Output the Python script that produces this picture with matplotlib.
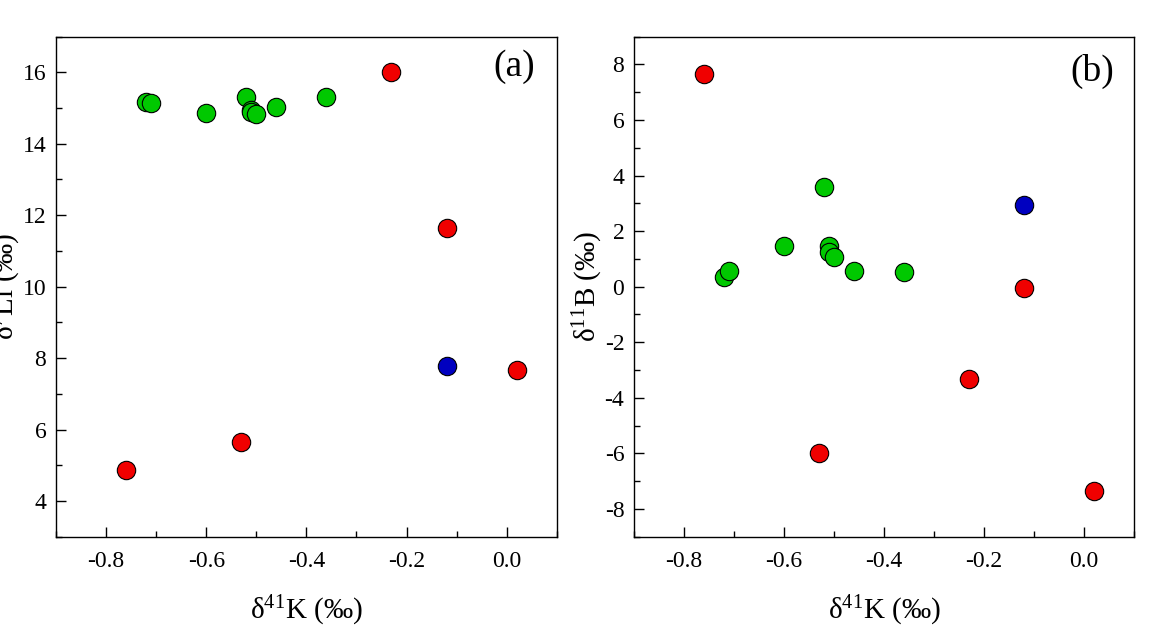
import numpy as np
import matplotlib
matplotlib.use('Agg')
from matplotlib import pyplot as plt
from matplotlib.ticker import MultipleLocator

plt.rcParams['font.family'] = ['Liberation Serif', 'DejaVu Serif']
plt.rcParams['mathtext.fontset'] = 'custom'
plt.rcParams['mathtext.rm'] = 'Liberation Serif'
plt.rcParams['mathtext.it'] = 'Liberation Serif:italic'

# green samples
green_k = [-0.72, -0.71, -0.60, -0.52, -0.51, -0.51, -0.50, -0.46, -0.36]
green_li = [15.16, 15.13, 14.85, 15.32, 14.95, 14.88, 14.82, 15.02, 15.30]
green_b = [0.35, 0.58, 1.48, 3.58, 1.45, 1.25, 1.05, 0.58, 0.53]

# red samples
red_k = [-0.76, -0.53, -0.23, -0.12, 0.02]
red_li = [4.87, 5.64, 16.0, 11.63, 7.66]
red_b = [7.66, -5.97, -3.32, -0.04, -7.37]

# blue sample
blue_k = [-0.12]
blue_li = [7.77]
blue_b = [2.93]

fig = plt.figure(figsize=(11.55, 6.42), dpi=100)
ax1 = fig.add_axes([0.0485, 0.164, 0.4335, 0.779])
ax2 = fig.add_axes([0.549, 0.164, 0.433, 0.779])

mk = dict(s=175, edgecolors='black', linewidths=0.8, zorder=3)


def style(ax):
    ax.set_xlim(-0.9, 0.1)
    ax.xaxis.set_major_locator(MultipleLocator(0.2))
    ax.xaxis.set_minor_locator(MultipleLocator(0.1))
    ax.yaxis.set_major_locator(MultipleLocator(2))
    ax.yaxis.set_minor_locator(MultipleLocator(1))
    ax.tick_params(which='both', direction='in', labelsize=17, width=1.0)
    ax.tick_params(which='major', length=7.5)
    ax.tick_params(which='minor', length=4)
    ax.tick_params(axis='x', which='major', pad=10)
    ax.tick_params(axis='y', which='major', pad=7)
    for s in ax.spines.values():
        s.set_linewidth(1.0)
    ax.xaxis.set_major_formatter(plt.FuncFormatter(lambda v, p: '%.1f' % v))
    ax.yaxis.set_major_formatter(plt.FuncFormatter(lambda v, p: '%d' % round(v)))
    ax.set_xlabel('δ$^{41}$K (‰)', fontsize=21, labelpad=16)


ax1.scatter(green_k, green_li, c='#00c800', **mk)
ax1.scatter(red_k, red_li, c='#f00000', **mk)
ax1.scatter(blue_k, blue_li, c='#0000c0', **mk)
style(ax1)
ax1.set_ylim(3, 17)
ax1.set_ylabel('δ$^{7}$Li (‰)', fontsize=21, labelpad=0)
ax1.text(0.957, 0.975, '(a)', transform=ax1.transAxes, ha='right', va='top', fontsize=27)

ax2.scatter(green_k, green_b, c='#00c800', **mk)
ax2.scatter(red_k, red_b, c='#f00000', **mk)
ax2.scatter(blue_k, blue_b, c='#0000c0', **mk)
style(ax2)
ax2.set_ylim(-9, 9)
ax2.set_ylabel('δ$^{11}$B (‰)', fontsize=21, labelpad=0)
ax2.text(0.96, 0.965, '(b)', transform=ax2.transAxes, ha='right', va='top', fontsize=27)

plt.savefig('out.png', dpi=100)
